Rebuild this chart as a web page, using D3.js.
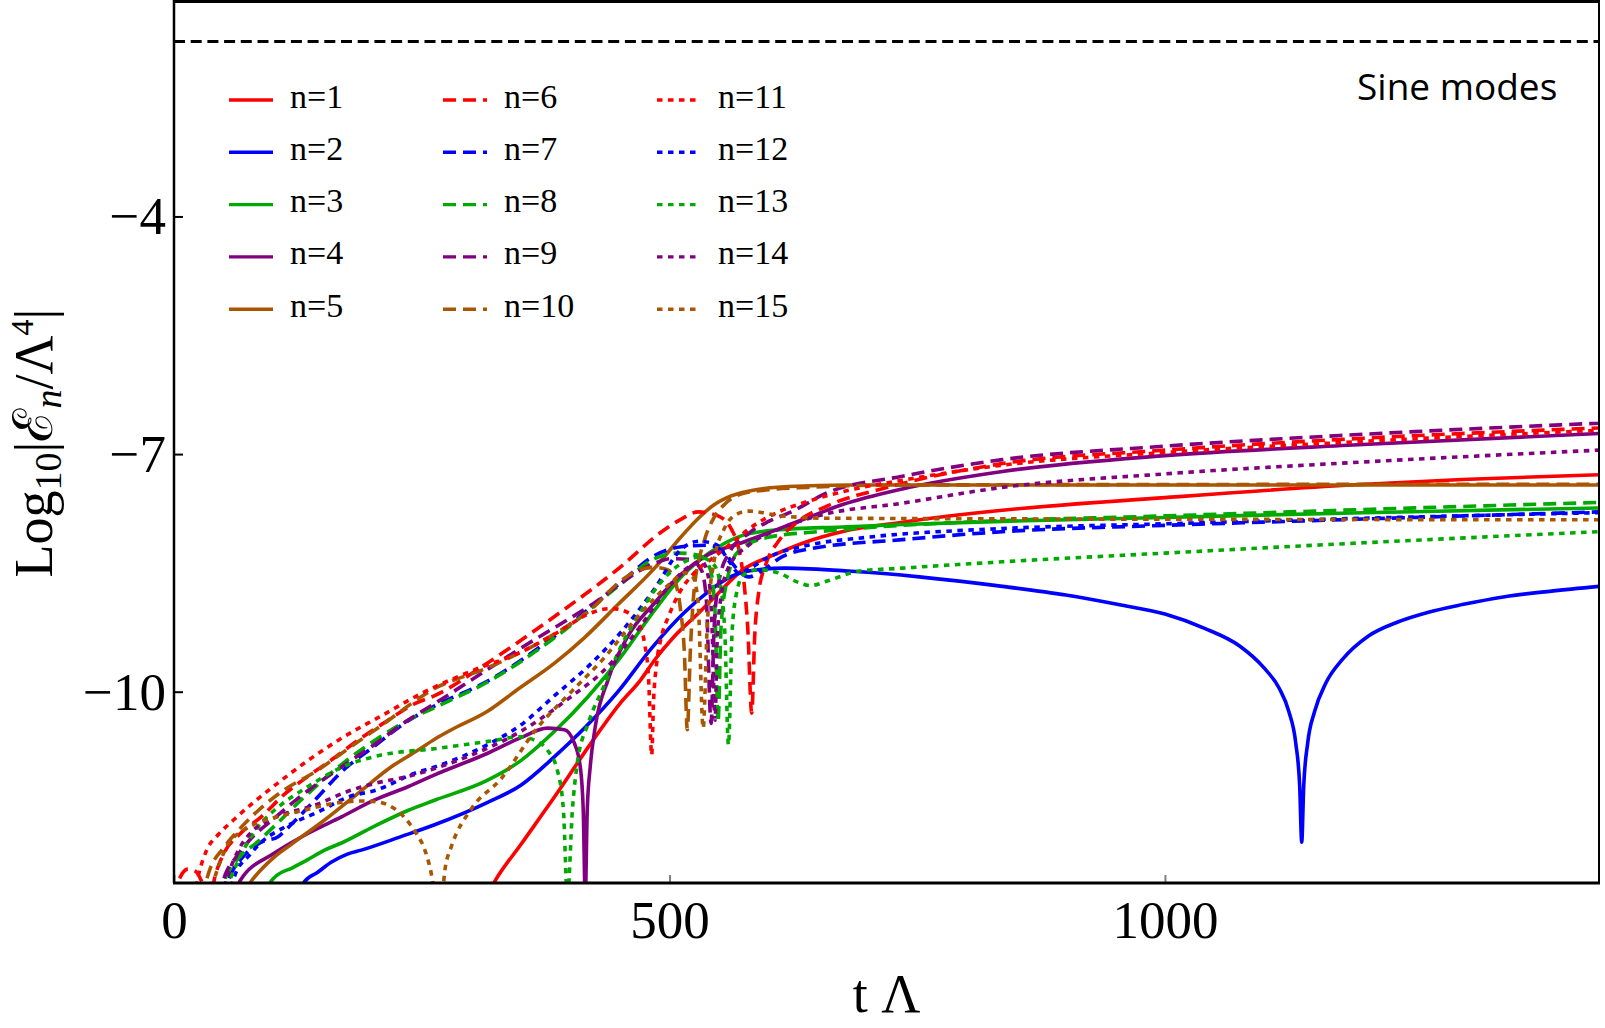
<!DOCTYPE html>
<html>
<head>
<meta charset="utf-8">
<script src="https://cdn.jsdelivr.net/npm/d3@7"></script>
<style>
  html, body { margin: 0; padding: 0; background: #fff; }
  svg { display: block; }
</style>
</head>
<body>
<svg id="chart" width="1605" height="1028"></svg>
<script>
// ---- data: [t Lambda, log10 |E_n / Lambda^4|] ----
const n1 = [[315,-12.6],[323,-12.41],[350,-11.93],[390,-11.22],[418,-10.7],[450,-10.15],[471,-9.85],[485,-9.6],[505,-9.3],[530,-9.0],[549,-8.76],[573,-8.47],[606,-8.27],[640,-8.1],[674,-7.98],[735,-7.86],[836,-7.71],[1000,-7.55],[1187,-7.39],[1300,-7.32],[1438,-7.26]];
const n2 = [[125,-12.6],[131,-12.41],[145,-12.28],[159,-12.15],[175,-12.05],[189,-12.0],[229,-11.83],[263,-11.68],[316,-11.4],[350,-11.18],[384,-10.82],[415,-10.45],[448,-10.0],[482,-9.45],[515,-9.0],[539,-8.74],[560,-8.56],[583,-8.47],[617,-8.44],[684,-8.48],[752,-8.55],[836,-8.67],[900,-8.78],[953,-8.9],[1000,-9.02],[1040,-9.2],[1075,-9.42],[1100,-9.7],[1115,-9.95],[1125,-10.25],[1132,-10.65],[1136,-11.2],[1138,-11.9],[1140,-11.2],[1144,-10.65],[1151,-10.25],[1162,-9.9],[1180,-9.58],[1205,-9.3],[1235,-9.12],[1265,-9.0],[1300,-8.9],[1343,-8.8],[1390,-8.73],[1438,-8.67]];
const n3 = [[90,-12.6],[97,-12.41],[101,-12.35],[120,-12.22],[135,-12.12],[152,-12.0],[169,-11.91],[202,-11.7],[236,-11.5],[263,-11.37],[316,-11.12],[350,-10.87],[384,-10.5],[418,-10.06],[451,-9.56],[485,-8.97],[512,-8.55],[540,-8.25],[573,-8.03],[607,-7.96],[674,-7.92],[735,-7.89],[836,-7.85],[1000,-7.8],[1200,-7.74],[1438,-7.68]];
const n4 = [[60,-12.6],[67,-12.38],[101,-12.04],[135,-11.79],[169,-11.58],[202,-11.37],[236,-11.2],[263,-11.05],[316,-10.78],[350,-10.58],[377,-10.46],[394,-10.48],[404,-10.65],[410,-10.95],[413,-11.5],[415,-12.6],[417,-11.5],[420,-10.95],[425,-10.45],[438,-9.85],[458,-9.3],[485,-8.88],[505,-8.6],[539,-8.27],[573,-8.12],[607,-7.96],[640,-7.8],[674,-7.64],[735,-7.44],[836,-7.22],[1000,-7.02],[1200,-6.88],[1438,-6.74]];
const n5 = [[70,-12.6],[77,-12.41],[84,-12.3],[100,-12.1],[118,-11.93],[152,-11.62],[186,-11.28],[219,-10.95],[246,-10.74],[263,-10.6],[280,-10.48],[316,-10.25],[347,-9.97],[384,-9.64],[414,-9.32],[448,-8.9],[485,-8.44],[512,-8.04],[530,-7.8],[545,-7.64],[558,-7.55],[583,-7.46],[620,-7.41],[680,-7.39],[1438,-7.39]];
const n6 = [[0,-12.6],[6,-12.35],[14,-12.24],[22,-12.27],[30,-12.45],[36,-12.6],[42,-12.3],[50,-12.05],[67,-11.79],[88,-11.58],[111,-11.3],[135,-11.07],[159,-10.86],[186,-10.61],[216,-10.36],[243,-10.15],[263,-10.05],[316,-9.64],[384,-9.05],[451,-8.42],[490,-8.0],[512,-7.82],[529,-7.73],[549,-7.78],[563,-7.96],[570,-8.2],[575,-8.6],[579,-9.2],[583,-10.27],[586,-9.3],[590,-8.75],[597,-8.4],[610,-8.1],[630,-7.85],[660,-7.65],[720,-7.42],[836,-7.12],[1000,-6.95],[1200,-6.8],[1438,-6.67]];
const n7 = [[50,-12.6],[56,-12.35],[70,-12.08],[88,-11.9],[105,-11.83],[118,-11.68],[142,-11.37],[170,-11.0],[202,-10.69],[236,-10.37],[263,-10.18],[316,-9.87],[384,-9.3],[451,-8.62],[485,-8.28],[512,-8.17],[539,-8.15],[556,-8.25],[566,-8.42],[580,-8.55],[595,-8.46],[613,-8.3],[640,-8.2],[735,-8.08],[836,-7.98],[1000,-7.9],[1200,-7.82],[1438,-7.73]];
const n8 = [[45,-12.6],[52,-12.35],[65,-12.1],[84,-11.9],[101,-11.7],[128,-11.37],[169,-10.92],[202,-10.62],[236,-10.36],[263,-10.2],[316,-9.88],[384,-9.32],[451,-8.64],[485,-8.32],[510,-8.25],[530,-8.28],[541,-8.45],[546,-9.0],[549,-10.38],[552,-9.2],[558,-8.6],[570,-8.22],[600,-8.05],[650,-7.98],[735,-7.9],[836,-7.84],[1000,-7.78],[1200,-7.7],[1438,-7.61]];
const n9 = [[45,-12.6],[52,-12.3],[62,-12.1],[78,-11.85],[101,-11.6],[135,-11.25],[169,-10.95],[202,-10.67],[236,-10.36],[263,-10.15],[350,-9.45],[418,-8.93],[485,-8.38],[502,-8.32],[520,-8.33],[532,-8.46],[537,-8.8],[542,-10.4],[545,-9.2],[550,-8.6],[560,-8.25],[580,-8.0],[600,-7.85],[623,-7.73],[657,-7.5],[735,-7.28],[836,-7.07],[1000,-6.9],[1200,-6.75],[1438,-6.61]];
const n10 = [[28,-12.6],[36,-12.25],[50,-11.97],[65,-11.75],[85,-11.5],[110,-11.25],[144,-11.0],[170,-10.77],[210,-10.42],[263,-9.96],[316,-9.7],[384,-9.27],[420,-8.97],[451,-8.6],[470,-8.46],[485,-8.43],[498,-8.46],[506,-8.62],[511,-8.95],[515,-9.5],[518,-10.48],[521,-9.5],[525,-8.7],[535,-8.1],[545,-7.8],[556,-7.63],[573,-7.5],[600,-7.45],[640,-7.42],[735,-7.39],[1438,-7.38]];
const n11 = [[20,-12.6],[25,-12.3],[33,-12.0],[45,-11.8],[60,-11.62],[80,-11.4],[100,-11.2],[135,-10.87],[170,-10.58],[210,-10.3],[250,-10.02],[300,-9.74],[350,-9.5],[390,-9.23],[418,-9.02],[441,-8.95],[458,-9.0],[468,-9.12],[475,-9.4],[479,-9.85],[482,-10.8],[484,-10.1],[487,-9.65],[492,-9.3],[499,-9.05],[510,-8.75],[525,-8.5],[545,-8.3],[565,-8.1],[583,-7.92],[610,-7.73],[634,-7.62],[680,-7.46],[735,-7.33],[836,-7.14],[1000,-6.98],[1200,-6.84],[1438,-6.7]];
const n12 = [[55,-12.6],[62,-12.3],[75,-12.08],[90,-11.88],[110,-11.72],[145,-11.52],[178,-11.32],[202,-11.25],[245,-11.02],[263,-10.95],[316,-10.67],[350,-10.42],[384,-10.05],[418,-9.68],[451,-9.25],[485,-8.7],[512,-8.2],[530,-8.1],[548,-8.15],[560,-8.35],[570,-8.5],[580,-8.45],[600,-8.3],[640,-8.15],[700,-8.05],[836,-7.94],[1000,-7.88],[1200,-7.81],[1438,-7.74]];
const n13 = [[48,-12.6],[55,-12.41],[70,-12.0],[85,-11.7],[101,-11.5],[135,-11.2],[170,-10.95],[209,-10.8],[263,-10.72],[316,-10.63],[350,-10.57],[365,-10.62],[377,-10.74],[387,-11.0],[393,-11.5],[397,-12.6],[402,-11.5],[407,-10.9],[418,-10.4],[435,-9.9],[451,-9.43],[468,-9.05],[485,-8.72],[500,-8.5],[515,-8.36],[530,-8.3],[545,-8.4],[552,-8.7],[556,-9.3],[559.5,-10.67],[563,-9.3],[567,-8.8],[575,-8.52],[590,-8.46],[610,-8.5],[630,-8.62],[642,-8.66],[660,-8.6],[690,-8.48],[735,-8.44],[836,-8.36],[1000,-8.25],[1200,-8.12],[1438,-7.98]];
const n14 = [[48,-12.6],[55,-12.3],[65,-12.0],[80,-11.75],[100,-11.6],[145,-11.42],[175,-11.26],[202,-11.16],[236,-11.07],[263,-10.97],[300,-10.8],[350,-10.5],[401,-10.06],[434,-9.73],[468,-9.22],[502,-8.63],[520,-8.42],[533,-8.36],[540,-8.6],[543,-9.2],[546,-10.36],[548,-9.4],[552,-8.8],[560,-8.42],[580,-8.15],[610,-7.95],[650,-7.78],[735,-7.62],[836,-7.42],[1000,-7.25],[1200,-7.1],[1438,-6.95]];
const n15 = [[35,-12.6],[45,-12.2],[53,-11.96],[70,-11.75],[88,-11.64],[107,-11.57],[130,-11.5],[161,-11.41],[189,-11.38],[205,-11.39],[216,-11.43],[232,-11.58],[245,-11.8],[252,-11.96],[258,-12.2],[268,-12.8],[274,-12.2],[280,-11.95],[300,-11.48],[330,-11.1],[367,-10.45],[401,-10.0],[435,-9.56],[468,-9.05],[502,-8.62],[515,-8.5],[524,-8.56],[529,-8.9],[534,-10.46],[538,-9.2],[545,-8.35],[555,-7.95],[563,-7.8],[580,-7.72],[613,-7.78],[660,-7.81],[1438,-7.83]];

const referenceLevel = -1.79;   // black dashed line
const xTicks = [0, 500, 1000];
const yTicks = [-4, -7, -10];
const legendLabels = ["n=1","n=2","n=3","n=4","n=5","n=6","n=7","n=8","n=9","n=10","n=11","n=12","n=13","n=14","n=15"];

// ---- styles ----
const colors = ["#ff0000", "#0000ff", "#00aa00", "#800080", "#aa5500"];
const dashes = [null, "13,7", "5.5,5.5"];
const allSeries = [n1, n2, n3, n4, n5, n6, n7, n8, n9, n10, n11, n12, n13, n14, n15];
const serif = "'Liberation Serif', 'Times New Roman', serif";

const plot = {left: 174, right: 1599, top: 1, bottom: 883};

const svg = d3.select("#chart");

let x = d3.scaleLinear().domain([0, 1438]).range([plot.left, plot.right]);
let y = d3.scaleLinear().domain([-12.415, -1.28]).range([plot.bottom, plot.top]);

svg.append("defs").append("clipPath").attr("id", "plotClip")
    .append("rect")
    .attr("x", plot.left).attr("y", plot.top)
    .attr("width", plot.right - plot.left).attr("height", plot.bottom - plot.top);

let lineGen = d3.line()
    .x(d => x(d[0]))
    .y(d => y(d[1]))
    .curve(d3.curveMonotoneX);

let lines = svg.append("g").attr("clip-path", "url(#plotClip)");

lines.selectAll("path.series")
    .data(allSeries)
    .enter().append("path")
    .attr("class", "series")
    .attr("d", d => lineGen(d))
    .attr("fill", "none")
    .attr("stroke", (d, i) => colors[i % 5])
    .attr("stroke-width", 3.6)
    .attr("stroke-linejoin", "round")
    .attr("stroke-dasharray", (d, i) => dashes[Math.floor(i / 5)]);

// reference level
lines.append("line")
    .attr("x1", plot.left).attr("x2", plot.right)
    .attr("y1", y(referenceLevel)).attr("y2", y(referenceLevel))
    .attr("stroke", "#000").attr("stroke-width", 3)
    .attr("stroke-dasharray", "11,5.7");

// axes
let xAxis = d3.axisBottom(x).tickValues(xTicks).tickSizeInner(-8).tickSizeOuter(0)
    .tickFormat(d3.format("d"));
let gx = svg.append("g").attr("transform", "translate(0," + plot.bottom + ")").call(xAxis);
gx.select(".domain").remove();
gx.selectAll(".tick line").attr("stroke", "#808080").attr("stroke-width", 2);
gx.selectAll(".tick text")
    .attr("y", 55).attr("dy", 0)
    .style("font-family", serif).style("font-size", "53px").attr("fill", "#000");

let yAxis = d3.axisLeft(y).tickValues(yTicks).tickSizeInner(-9).tickSizeOuter(0).tickPadding(8)
    .tickFormat(d3.format("d"));
let gy = svg.append("g").attr("transform", "translate(" + plot.left + ",0)").call(yAxis);
gy.select(".domain").remove();
gy.selectAll(".tick line").attr("stroke", "#000").attr("stroke-width", 2);
gy.selectAll(".tick text")
    .attr("dy", "0.33em")
    .style("font-family", serif).style("font-size", "53px").attr("fill", "#000");

// frame
let frame = svg.append("g").attr("stroke", "#000").attr("fill", "none");
frame.append("line").attr("x1", plot.left - 1).attr("x2", plot.right + 1).attr("y1", 1.5).attr("y2", 1.5).attr("stroke-width", 3);
frame.append("line").attr("x1", plot.left - 1).attr("x2", plot.right + 1).attr("y1", plot.bottom).attr("y2", plot.bottom).attr("stroke-width", 3);
frame.append("line").attr("x1", plot.left).attr("x2", plot.left).attr("y1", 0).attr("y2", plot.bottom).attr("stroke-width", 2.5);
frame.append("line").attr("x1", plot.right).attr("x2", plot.right).attr("y1", 0).attr("y2", plot.bottom).attr("stroke-width", 2);

// axis titles
svg.append("text")
    .attr("x", (plot.left + plot.right) / 2).attr("y", 1012)
    .attr("text-anchor", "middle")
    .style("font-family", serif).style("font-size", "54px")
    .text("t \u039B");

let yTitle = svg.append("text")
    .attr("transform", "translate(52,443) rotate(-90)")
    .attr("text-anchor", "middle")
    .style("font-family", serif).style("font-size", "54px");
yTitle.append("tspan").text("Log");
yTitle.append("tspan").attr("dy", 9).style("font-size", "38px").text("10");
yTitle.append("tspan").attr("dy", -9).text("|");
yTitle.append("tspan").style("font-family", "'DejaVu Serif', serif").style("font-size", "55px").text("\u2130");
yTitle.append("tspan").attr("dy", 9).style("font-size", "38px").style("font-style", "italic").text("n");
yTitle.append("tspan").attr("dy", -9).text("/\u039B");
yTitle.append("tspan").attr("dy", -19).style("font-size", "32px").text("4");
yTitle.append("tspan").attr("dy", 19).text("|");

// legend
let legend = svg.append("g");
let items = legend.selectAll("g.item")
    .data(legendLabels)
    .enter().append("g")
    .attr("class", "item")
    .attr("transform", (d, i) => "translate(" + (229 + 214 * Math.floor(i / 5)) + "," + (100 + 52.3 * (i % 5)) + ")");
items.append("line")
    .attr("x1", 0).attr("x2", 44).attr("y1", 0).attr("y2", 0)
    .attr("stroke", (d, i) => colors[i % 5])
    .attr("stroke-width", 3.4)
    .attr("stroke-dasharray", (d, i) => dashes[Math.floor(i / 5)]);
items.append("text")
    .attr("x", 61).attr("y", 7.5)
    .style("font-family", serif).style("font-size", "34px")
    .text(d => d);

// panel label
svg.append("text")
    .attr("x", 1357).attr("y", 100)
    .style("font-family", "'Open Sans', sans-serif").style("font-size", "37px")
    .text("Sine modes");
</script>
</body>
</html>
